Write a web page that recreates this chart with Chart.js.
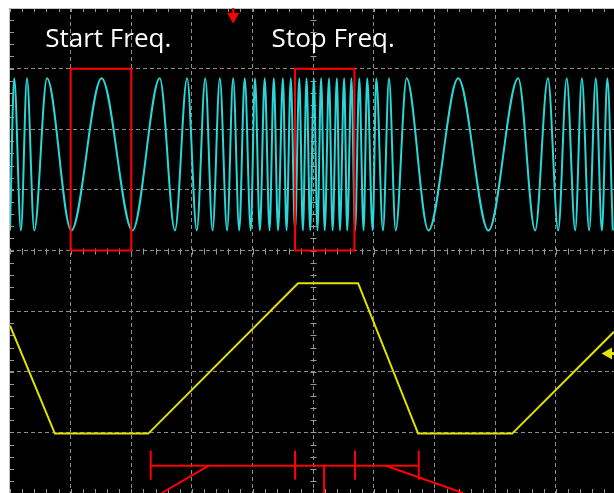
<!DOCTYPE html>
<html>
<head>
<meta charset="utf-8">
<script src="https://cdn.jsdelivr.net/npm/chart.js@4.4.1/dist/chart.umd.min.js"></script>
<style>
  html, body { margin: 0; padding: 0; background: #fff; overflow: hidden; }
  canvas { display: block; }
</style>
</head>
<body>
<canvas id="scope" width="614" height="493"></canvas>
<script>
// everything is in scope divisions: x 0..10 (screen is cut at ~9.96), y -4..4 (0 = centre line)

const cyanPeaks = [0.07, 0.28, 0.61, 1.51, 2.47, 2.92, 3.22, 3.46, 3.68, 3.87, 4.04, 4.20, 4.35,
  4.50, 4.63, 4.77, 4.89, 5.01, 5.13, 5.26, 5.39, 5.51, 5.63, 5.76, 5.89, 6.04, 6.25, 6.54,
  7.39, 8.38, 8.87, 9.18, 9.43, 9.66, 9.85];
const cyanTroughs = [0.00, 0.18, 0.40, 1.01, 2.02, 2.72, 3.08, 3.34, 3.58, 3.78, 3.97, 4.12, 4.28,
  4.42, 4.56, 4.70, 4.83, 4.95, 5.07, 5.19, 5.32, 5.44, 5.56, 5.69, 5.83, 5.98, 6.15, 6.36,
  6.90, 7.89, 8.66, 9.04, 9.32, 9.55, 9.76, 9.94];
const cyanTop = 2.84;
const cyanBottom = 0.33;

// CH2 (yellow) - sweep control, trapezoid corners
const yellowTimes = [0, 0.74, 2.28, 4.75, 5.74, 6.73, 8.28, 9.96];
const yellowLevels = [-1.24, -3.02, -3.02, -0.54, -0.54, -3.02, -3.02, -1.34];

// red boxes round one cycle at start / stop frequency
const startBox = [[1.00, 0], [1.00, 3], [2.00, 3], [2.00, 0], [1.00, 0]];
const stopBox = [[4.70, 0], [4.70, 3], [5.68, 3], [5.68, 0], [4.70, 0]];

// red time bracket at the bottom
const bracketLines = [
  [[2.32, -3.55], [6.74, -3.55]],
  [[2.32, -3.30], [2.32, -3.78]],
  [[4.70, -3.30], [4.70, -3.78]],
  [[5.69, -3.30], [5.69, -3.78]],
  [[6.74, -3.30], [6.74, -3.78]],
  [[5.18, -3.55], [5.18, -4.00]],
  [[3.28, -3.55], [2.50, -4.00]],
  [[6.20, -3.55], [7.47, -4.00]]
];

const labelText = ['Start Freq.', 'Stop Freq.'];
const labelX = [1.62, 5.33];
const labelY = 3.35;

const triggerPos = 3.68;
const ch2Offset = -1.70;

const toPts = arr => arr.map(p => ({ x: p[0], y: p[1] }));

const cyanData = cyanPeaks.map(t => ({ x: t, y: cyanTop }))
  .concat(cyanTroughs.map(t => ({ x: t, y: cyanBottom })))
  .sort((a, b) => a.x - b.x);
const yellowData = yellowTimes.map((t, i) => ({ x: t, y: yellowLevels[i] }));

const red = '#ff0000';
const redLine = (pts, w) => ({
  data: toPts(pts), borderColor: red, borderWidth: w, pointRadius: 0, tension: 0, order: 0
});

const scopeScreen = {
  id: 'scopeScreen',
  beforeDraw(chart) {
    const { ctx, chartArea: a } = chart;
    ctx.save();
    ctx.fillStyle = '#000';
    ctx.fillRect(a.left - 1, a.top, a.right - a.left + 1, a.bottom - a.top);
    ctx.restore();
  },
  beforeDatasetsDraw(chart) {
    const { ctx, chartArea: a, scales: { x, y } } = chart;
    ctx.save();
    ctx.strokeStyle = '#9a9a9a';
    ctx.lineWidth = 1;
    const cx = Math.round(x.getPixelForValue(5)) + 0.5;
    const cy = Math.round(y.getPixelForValue(0)) + 0.5;
    ctx.beginPath();
    for (let i = 0; i <= 50; i++) {
      const px = Math.round(x.getPixelForValue(i * 0.2)) + 0.5;
      ctx.moveTo(px, cy - 3); ctx.lineTo(px, cy + 3);
      ctx.moveTo(px, a.top); ctx.lineTo(px, a.top + 4);
      ctx.moveTo(px, a.bottom); ctx.lineTo(px, a.bottom - 4);
    }
    for (let i = 0; i <= 40; i++) {
      const py = Math.round(y.getPixelForValue(-4 + i * 0.2)) + 0.5;
      ctx.moveTo(cx - 3, py); ctx.lineTo(cx + 3, py);
      ctx.moveTo(a.left, py); ctx.lineTo(a.left + 4, py);
    }
    ctx.stroke();
    ctx.strokeStyle = '#c4c4c4';
    ctx.beginPath();
    ctx.moveTo(a.left - 0.5, a.bottom);
    ctx.lineTo(a.left - 0.5, a.top + 0.5);
    ctx.lineTo(a.right, a.top + 0.5);
    ctx.stroke();

    ctx.fillStyle = '#ffffff';
    ctx.font = '26px "Open Sans"';
    ctx.textAlign = 'center';
    ctx.textBaseline = 'alphabetic';
    labelText.forEach((s, i) => {
      ctx.fillText(s, x.getPixelForValue(labelX[i]), y.getPixelForValue(labelY));
    });
    ctx.restore();
  }
};

// dashed grid on whole divisions, none on the screen edges
const gridColor = ctx => {
  const v = ctx.tick ? ctx.tick.value : 0;
  const edge = ctx.scale.axis === 'x' ? (v <= 0.01 || v >= 9.9) : Math.abs(v) >= 3.99;
  return edge ? 'rgba(0,0,0,0)' : '#8c8c8c';
};

new Chart(document.getElementById('scope'), {
  type: 'line',
  data: {
    datasets: [
      redLine(startBox, 2),
      redLine(stopBox, 2),
      ...bracketLines.map(l => redLine(l, 2)),
      {
        data: [{ x: triggerPos, y: 4.0 }, { x: triggerPos, y: 3.88 }],
        borderColor: red, borderWidth: 2, pointRadius: 0, order: 0
      },
      {
        data: [{ x: triggerPos, y: 3.86 }],
        showLine: false, pointStyle: 'triangle', rotation: 180, pointRadius: 7,
        pointBackgroundColor: red, pointBorderWidth: 0, order: 0
      },
      {
        data: [{ x: 9.90, y: ch2Offset }, { x: 9.96, y: ch2Offset }],
        borderColor: '#e6e600', borderWidth: 3, pointRadius: 0, order: 0
      },
      {
        data: [{ x: 9.87, y: ch2Offset }],
        showLine: false, pointStyle: 'triangle', rotation: -90, pointRadius: 7,
        pointBackgroundColor: '#e6e600', pointBorderWidth: 0, order: 0
      },
      {
        label: 'CH2',
        data: yellowData,
        borderColor: '#e2e200',
        borderWidth: 2,
        pointRadius: 0,
        tension: 0,
        order: 1
      },
      {
        label: 'CH1',
        data: cyanData,
        borderColor: '#2ad6d6',
        borderWidth: 2,
        pointRadius: 0,
        cubicInterpolationMode: 'monotone',
        order: 2
      }
    ]
  },
  options: {
    responsive: false,
    animation: false,
    layout: { autoPadding: false, padding: { left: 10, top: 8, right: 0, bottom: 0 } },
    plugins: { legend: { display: false }, tooltip: { enabled: false } },
    scales: {
      x: {
        type: 'linear', min: 0, max: 9.96,
        ticks: { display: false, stepSize: 1 },
        grid: { color: gridColor, drawTicks: false, lineWidth: 1 },
        border: { display: false, dash: [4, 3] },
        afterFit(s) { s.height = 0; }
      },
      y: {
        type: 'linear', min: -4, max: 4,
        ticks: { display: false, stepSize: 1 },
        grid: { color: gridColor, drawTicks: false, lineWidth: 1 },
        border: { display: false, dash: [4, 3] },
        afterFit(s) { s.width = 0; }
      }
    }
  },
  plugins: [scopeScreen]
});
</script>
</body>
</html>
